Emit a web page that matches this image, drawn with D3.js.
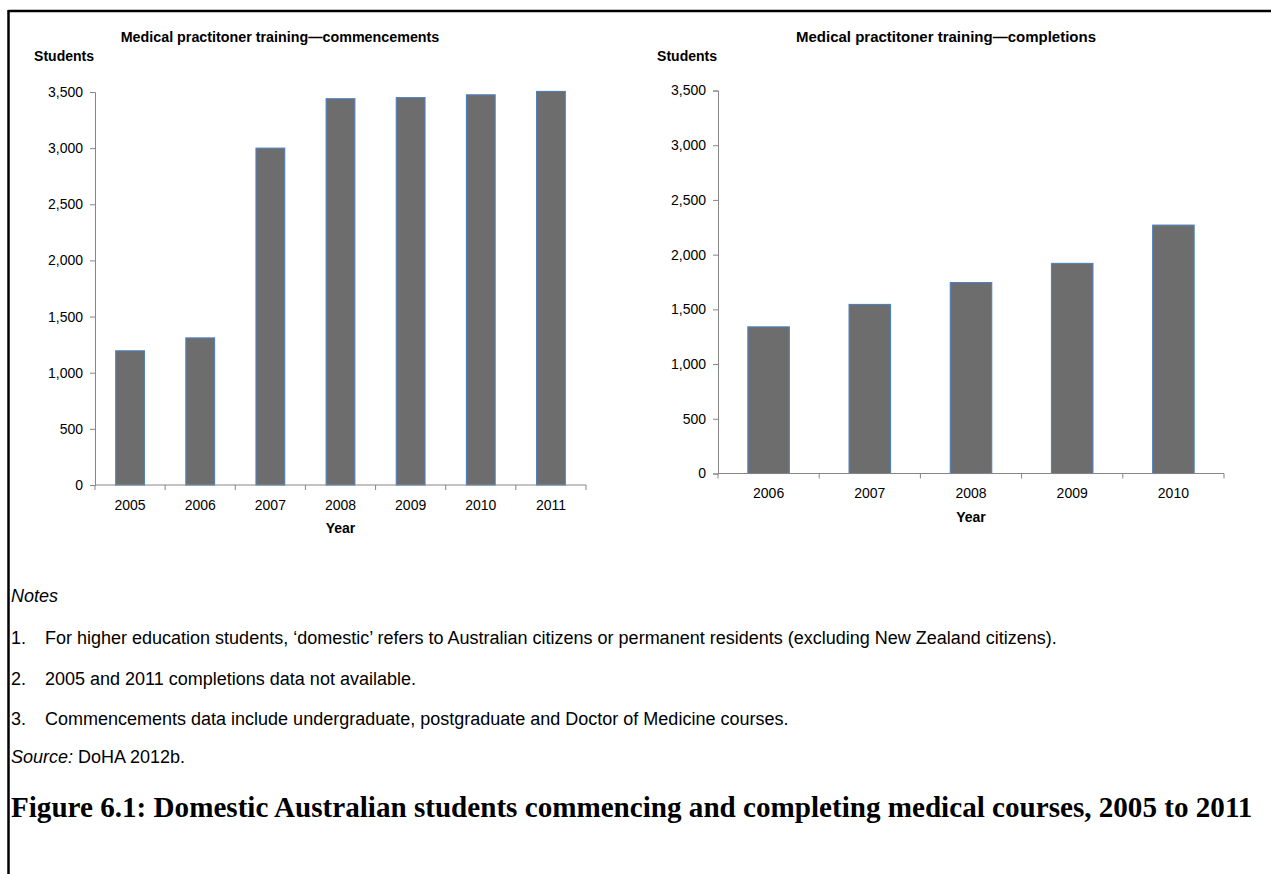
<!DOCTYPE html>
<html>
<head>
<meta charset="utf-8">
<script src="https://cdn.jsdelivr.net/npm/d3@7"></script>
<style>
  html, body { margin: 0; padding: 0; background: #fff; }
  svg { display: block; }
  text { font-family: "Liberation Sans", Arial, sans-serif; fill: #000; }
</style>
</head>
<body>
<svg id="fig" width="1271" height="874"></svg>
<script>
// Commencements (2005–2011)
const commYears = ["2005", "2006", "2007", "2008", "2009", "2010", "2011"];
const commValues = [1195, 1310, 3000, 3440, 3450, 3475, 3505];

// Completions (2006–2010)
const compYears = ["2006", "2007", "2008", "2009", "2010"];
const compValues = [1340, 1545, 1745, 1920, 2270];

const yTicks = [0, 500, 1000, 1500, 2000, 2500, 3000, 3500];

const notes = [
  "For higher education students, \u2018domestic\u2019 refers to Australian citizens or permanent residents (excluding New Zealand citizens).",
  "2005 and 2011 completions data not available.",
  "Commencements data include undergraduate, postgraduate and Doctor of Medicine courses."
];

const svg = d3.select("#fig");

// page frame: rule across the top and down the left side
svg.append("line").attr("x1", 8.5).attr("x2", 1271).attr("y1", 11).attr("y2", 11)
  .attr("stroke", "#000").attr("stroke-width", 2.5);
svg.append("line").attr("x1", 8.5).attr("x2", 8.5).attr("y1", 10).attr("y2", 874)
  .attr("stroke", "#000").attr("stroke-width", 2.5);

const fmt = d3.format(",");

function barChart(cfg) {
  const x = d3.scaleBand().domain(cfg.cats)
    .range([cfg.x0, cfg.x1]).paddingInner(0.59).paddingOuter(0.295);
  const y = d3.scaleLinear().domain([0, 3500]).range([cfg.y0, cfg.y1]);
  const g = svg.append("g");

  // bars
  g.selectAll("rect.bar").data(cfg.vals).join("rect")
    .attr("class", "bar")
    .attr("x", (d, i) => x(cfg.cats[i]))
    .attr("width", x.bandwidth())
    .attr("y", d => y(d))
    .attr("height", d => y(0) - y(d))
    .attr("fill", "#6d6d6d")
    .attr("stroke", "#4f81bd")
    .attr("stroke-width", 1.1);

  // y axis
  const ya = g.append("g").attr("transform", `translate(${cfg.x0},0)`)
    .call(d3.axisLeft(y).tickValues(yTicks).tickFormat(fmt).tickSize(5).tickPadding(7));
  ya.select(".domain").attr("stroke", "#868686");
  ya.selectAll(".tick line").attr("stroke", "#868686");
  ya.selectAll(".tick text").style("font-size", "14px").style("fill", "#000");

  // x axis with tick marks on the category boundaries
  const xa = g.append("g").attr("transform", `translate(0,${cfg.y0})`)
    .call(d3.axisBottom(x).tickSize(0).tickPadding(15));
  xa.select(".domain").attr("stroke", "#868686").attr("d", `M${cfg.x0},0H${cfg.x1}`);
  xa.selectAll(".tick text").style("font-size", "14px").style("fill", "#000");
  const bounds = d3.range(cfg.cats.length + 1).map(i => cfg.x0 + i * (cfg.x1 - cfg.x0) / cfg.cats.length);
  xa.selectAll("line.bt").data(bounds).join("line")
    .attr("class", "bt")
    .attr("x1", d => d).attr("x2", d => d).attr("y1", 0).attr("y2", 5)
    .attr("stroke", "#868686");

  // titles
  g.append("text").attr("x", cfg.titleX).attr("y", 42)
    .attr("text-anchor", "middle").style("font-weight", "bold").style("font-size", cfg.titleSize)
    .text(cfg.title);
  g.append("text").attr("x", cfg.x0 - 1).attr("y", 61)
    .attr("text-anchor", "end").style("font-weight", "bold").style("font-size", "14px")
    .text("Students");
  g.append("text").attr("x", (cfg.x0 + cfg.x1) / 2).attr("y", cfg.y0 + 48)
    .attr("text-anchor", "middle").style("font-weight", "bold").style("font-size", "14px")
    .text("Year");
}

barChart({
  cats: commYears, vals: commValues,
  x0: 95, x1: 586, y0: 485, y1: 92,
  title: "Medical practitoner training\u2014commencements", titleX: 280, titleSize: "14.3px"
});

barChart({
  cats: compYears, vals: compValues,
  x0: 718, x1: 1224, y0: 473.5, y1: 90.5,
  title: "Medical practitoner training\u2014completions", titleX: 946, titleSize: "15px"
});

// notes block
const nx = 11, ntx = 45, nfs = "18px";
svg.append("text").attr("x", nx).attr("y", 602).style("font-size", nfs)
  .style("font-style", "italic").text("Notes");
notes.forEach((t, i) => {
  const yy = 644 + i * 40.5;
  svg.append("text").attr("x", nx).attr("y", yy).style("font-size", nfs).text((i + 1) + ".");
  svg.append("text").attr("x", ntx).attr("y", yy).style("font-size", nfs).text(t);
});
const src = svg.append("text").attr("x", nx).attr("y", 763).style("font-size", nfs);
src.append("tspan").style("font-style", "italic").text("Source:");
src.append("tspan").text(" DoHA 2012b.");

// figure caption, sized to run the full width of the page
const cap = svg.append("text").attr("x", 11).attr("y", 817)
  .style("font-family", "'Liberation Serif', 'DejaVu Serif', serif")
  .style("font-weight", "bold").style("font-size", "26px")
  .text("Figure 6.1: Domestic Australian students commencing and completing medical courses, 2005 to 2011");
const cw = cap.node().getComputedTextLength();
cap.style("font-size", (26 * 1242 / cw) + "px");
</script>
</body>
</html>
